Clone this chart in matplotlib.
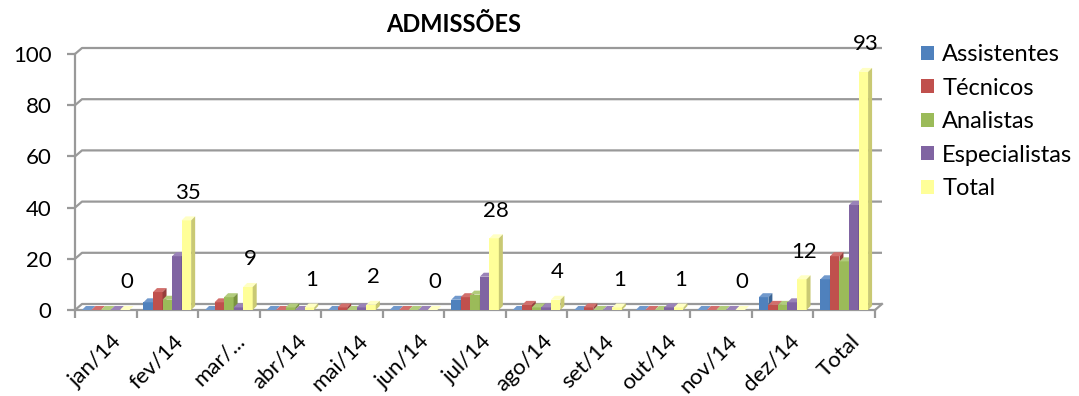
import matplotlib
matplotlib.use("Agg")
from matplotlib import pyplot as plt
from matplotlib.patches import Polygon, Patch
from matplotlib.transforms import ScaledTranslation

# Monthly hires by role, last group is the year total
months = ['jan/14', 'fev/14', 'mar/...', 'abr/14', 'mai/14', 'jun/14', 'jul/14',
          'ago/14', 'set/14', 'out/14', 'nov/14', 'dez/14', 'Total']
assistentes = [0, 3, 0, 0, 0, 0, 4, 0, 0, 0, 0, 5, 12]
tecnicos = [0, 7, 3, 0, 1, 0, 5, 2, 1, 0, 0, 2, 21]
analistas = [0, 4, 5, 1, 0, 0, 6, 1, 0, 0, 0, 2, 19]
especialistas = [0, 21, 1, 0, 1, 0, 13, 1, 0, 1, 0, 3, 41]
total = [0, 35, 9, 1, 2, 0, 28, 4, 1, 1, 0, 12, 93]

series = [('Assistentes', assistentes), ('Técnicos', tecnicos), ('Analistas', analistas),
          ('Especialistas', especialistas), ('Total', total)]
# front, top, side face colours for each series
faces = [('#4F81BD', '#7199CC', '#3A6495'),
         ('#C0504D', '#D26F6C', '#963D3B'),
         ('#9BBB59', '#B2CC7C', '#78923F'),
         ('#8064A2', '#9A83B8', '#62497F'),
         ('#FFFF99', '#FFFFC4', '#C9C973')]

plt.rcParams['font.family'] = ['Lato', 'DejaVu Sans']
grey = '#999999'

W, H = 1079, 396
fig = plt.figure(figsize=(W / 100, H / 100), dpi=100)
ax = fig.add_axes([75 / W, 1 - 310 / H, 800 / W, 256 / H])
n = len(months)
ax.set_xlim(-0.5, n - 0.5)
ax.set_ylim(0, 100)
ax.patch.set_visible(False)

# pixel sizes converted to data units
px_x = n / 800
px_y = 100 / 256
bdx, bdy = 4 * px_x, 4 * px_y      # bar depth
gdx, gdy = 7 * px_x, 6 * px_y      # back wall offset

# back wall gridlines with the diagonal at the left
for v in range(0, 101, 20):
    ax.plot([-0.5, -0.5 + gdx, n - 0.5 + gdx], [v, v + gdy, v + gdy],
            color=grey, lw=1.6, clip_on=False, zorder=1, solid_capstyle='butt')
# right edge of the floor
ax.plot([n - 0.5, n - 0.5 + gdx], [0, gdy], color=grey, lw=1.6, clip_on=False, zorder=1)

for s in ['top', 'right']:
    ax.spines[s].set_visible(False)
for s in ['left', 'bottom']:
    ax.spines[s].set_color(grey)
    ax.spines[s].set_linewidth(1.6)
    ax.spines[s].set_zorder(1)

bw = 0.155
offsets = [(k - 2) * bw for k in range(5)]
z = 2
for i in range(n):
    for k, (name, vals) in enumerate(series):
        front, top, side = faces[k]
        x0 = i + offsets[k] - bw / 2
        v = vals[i]
        ax.bar(x0, v, width=bw, align='edge', color=front, lw=0, zorder=z)
        ax.add_patch(Polygon([(x0, v), (x0 + bw, v), (x0 + bw + bdx, v + bdy), (x0 + bdx, v + bdy)],
                             closed=True, facecolor=top, lw=0, zorder=z, clip_on=False))
        ax.add_patch(Polygon([(x0 + bw, 0), (x0 + bw + bdx, bdy), (x0 + bw + bdx, v + bdy), (x0 + bw, v)],
                             closed=True, facecolor=side, lw=0, zorder=z, clip_on=False))
        z += 0.01
    # value label over the total bar
    ax.annotate(str(total[i]), (i + offsets[4] + bdx / 2, total[i]), xytext=(0, 20),
                textcoords='offset points', ha='center', va='center', fontsize=16,
                zorder=10, annotation_clip=False)

ax.set_yticks(range(0, 101, 20))
ax.tick_params(axis='y', length=6, width=1.6, color=grey, pad=11, labelsize=16)
ax.set_xticks(range(n), months, rotation=45, ha='right', rotation_mode='anchor', fontsize=16)
ax.set_xticks([i - 0.5 for i in range(n + 1)], minor=True)
ax.tick_params(axis='x', which='major', length=0, pad=15)
ax.tick_params(axis='x', which='minor', length=6, width=1.6, color=grey)
shift = ScaledTranslation(6 / 100, 0, fig.dpi_scale_trans)
for lbl in ax.get_xticklabels():
    lbl.set_transform(lbl.get_transform() + shift)

fig.text(454 / W, 1 - 25 / H, 'ADMISSÕES', ha='center', va='center',
         fontsize=17, fontweight='bold')

handles = [Patch(facecolor=faces[k][0], edgecolor='none') for k in range(5)]
fig.legend(handles, [s[0] for s in series], loc='upper left',
           bbox_to_anchor=(921 / W, 1 - 44 / H), bbox_transform=fig.transFigure,
           frameon=False, fontsize=17, handlelength=0.55, handleheight=0.55,
           handletextpad=0.35, labelspacing=0.53, borderpad=0, borderaxespad=0)

fig.savefig('out.png', dpi=100)
